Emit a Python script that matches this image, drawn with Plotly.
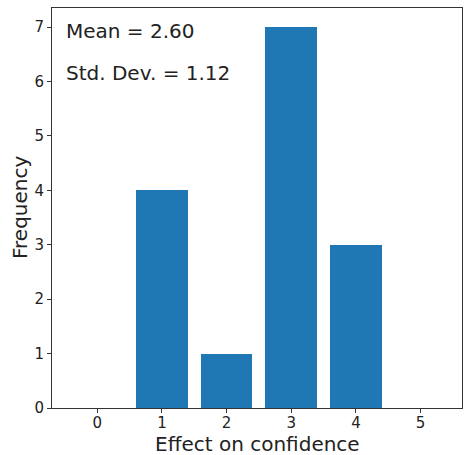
import plotly.graph_objects as go

categories = [1, 2, 3, 4]
frequencies = [4, 1, 7, 3]
x_ticks = [0, 1, 2, 3, 4, 5]
y_ticks = [0, 1, 2, 3, 4, 5, 6, 7]
stats_text = ["Mean = 2.60", "Std. Dev. = 1.12"]

fig = go.Figure(go.Bar(x=categories, y=frequencies, width=0.8,
                       marker=dict(color="#1f77b4", line=dict(width=0))))

font = "DejaVu Sans, sans-serif"
fig.update_layout(
    width=464, height=455,
    margin=dict(l=52, r=2, t=8, b=47),
    plot_bgcolor="white", paper_bgcolor="white",
    font=dict(family=font, color="#222222"),
    showlegend=False,
    bargap=0,
)
axis_common = dict(showline=True, linecolor="#333333", linewidth=1, mirror=True,
                   showgrid=False, zeroline=False, ticks="outside", ticklen=4,
                   tickcolor="#333333", tickfont=dict(size=15, family=font))
fig.update_xaxes(range=[-0.7, 5.64], tickvals=x_ticks, ticklabelstandoff=-3, **axis_common)
fig.update_yaxes(range=[0, 7.35], tickvals=y_ticks, **axis_common)

fig.add_annotation(text="Effect on confidence", xref="paper", yref="paper",
                   x=0.5, y=0, yshift=-36, xanchor="center", yanchor="middle",
                   borderpad=0, showarrow=False,
                   font=dict(size=20, family=font, color="#222222"))
fig.add_annotation(text="Frequency", xref="paper", yref="paper",
                   x=0, y=0.5, xshift=-32, xanchor="center", yanchor="middle",
                   textangle=-90, showarrow=False,
                   font=dict(size=20, family=font, color="#222222"))

for i, t in enumerate(stats_text):
    fig.add_annotation(text=t, xref="paper", yref="paper", x=0.03, y=[0.9425, 0.8375][i],
                       xanchor="left", yanchor="middle", showarrow=False,
                       font=dict(size=20, family=font, color="#222222"))

fig.write_html("out.html", config={"displayModeBar": False})
with open("out.html", encoding="utf-8") as f:
    html = f.read()
html = html.replace("<head>", "<head><style>html,body{margin:0;padding:0;overflow:hidden}</style>", 1)
with open("out.html", "w", encoding="utf-8") as f:
    f.write(html)
